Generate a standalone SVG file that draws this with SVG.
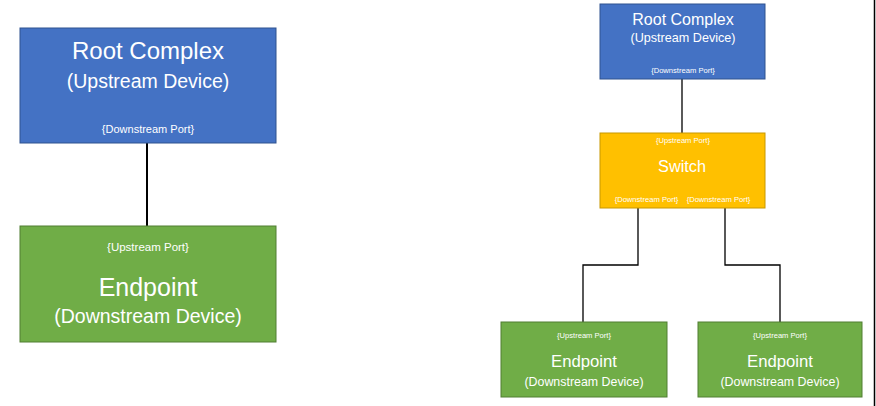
<svg xmlns="http://www.w3.org/2000/svg" width="876" height="406" viewBox="0 0 876 406">
<style>
.blue{fill:#4472C4;stroke:#2F528F;stroke-width:1}
.green{fill:#70AD47;stroke:#507E32;stroke-width:1}
.gold{fill:#FFC000;stroke:#C89800;stroke-width:1}
text{font-family:"Liberation Sans",Arial,sans-serif;fill:#FFFFFF;text-anchor:middle}
.conn{fill:none;stroke:#000;stroke-width:2}
.conns{fill:none;stroke:#000;stroke-width:1.3}
</style>
<rect width="876" height="406" fill="#FFFFFF"/>
<line x1="874.5" y1="0" x2="874.5" y2="406" stroke="#000" stroke-width="1.5"/>
<g id="connectors">
<line class="conn" x1="147" y1="143" x2="147" y2="226"/>
<line class="conns" x1="682" y1="79" x2="682" y2="133"/>
<polyline class="conns" points="638,208 638,265 583,265 583,322"/>
<polyline class="conns" points="725,208 725,265 780,265 780,322"/>
</g>
<g id="root-left">
<rect class="blue" x="20" y="28" width="256" height="115"/>
<text x="148" y="59" font-size="24">Root Complex</text>
<text x="148" y="88" font-size="19.5">(Upstream Device)</text>
<text x="148" y="133" font-size="11">{Downstream Port}</text>
</g>
<g id="endpoint-left">
<rect class="green" x="20" y="226" width="256" height="116"/>
<text x="148" y="251" font-size="11.5">{Upstream Port}</text>
<text x="148" y="296" font-size="25">Endpoint</text>
<text x="148" y="323" font-size="19.5">(Downstream Device)</text>
</g>
<g id="root-right">
<rect class="blue" x="600" y="4" width="165" height="75"/>
<text x="683" y="25" font-size="16">Root Complex</text>
<text x="683" y="42" font-size="12.6">(Upstream Device)</text>
<text x="683" y="73" font-size="7.6">{Downstream Port}</text>
</g>
<g id="switch">
<rect class="gold" x="600" y="133" width="165" height="75"/>
<text x="683" y="143" font-size="7.6">{Upstream Port}</text>
<text x="682" y="172" font-size="16.3">Switch</text>
<text x="646.5" y="202" font-size="7.6">{Downstream Port}</text>
<text x="718.5" y="202" font-size="7.6">{Downstream Port}</text>
</g>
<g id="endpoint-1">
<rect class="green" x="501" y="322" width="166" height="75"/>
<text x="584" y="338" font-size="7.6">{Upstream Port}</text>
<text x="584" y="367" font-size="16.7">Endpoint</text>
<text x="584" y="386" font-size="12.4">(Downstream Device)</text>
</g>
<g id="endpoint-2">
<rect class="green" x="698" y="322" width="164" height="75"/>
<text x="780" y="338" font-size="7.6">{Upstream Port}</text>
<text x="780" y="367" font-size="16.7">Endpoint</text>
<text x="780" y="386" font-size="12.4">(Downstream Device)</text>
</g>
</svg>
